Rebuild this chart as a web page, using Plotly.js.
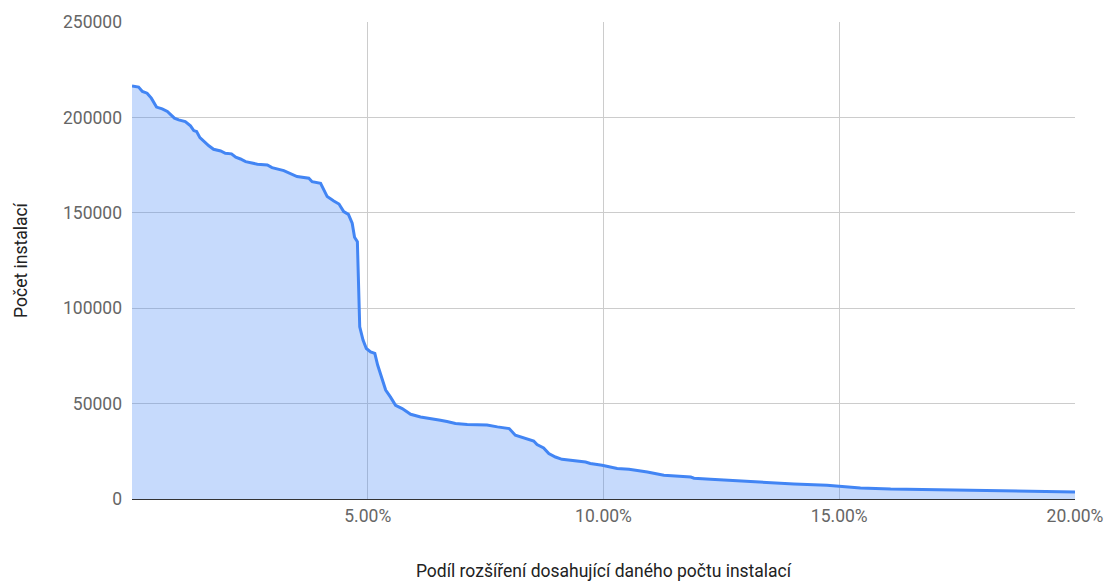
<!DOCTYPE html>
<html>
<head>
<meta charset="utf-8">
<script src="https://cdn.plot.ly/plotly-3.0.1.min.js"></script>
<style>html,body{margin:0;padding:0;background:#fff}#chart{width:1106px;height:581px}</style>
</head>
<body>
<div id="chart"></div>
<script>
// Share of extensions (fraction) reaching the given number of installs
const shareValues = [0, 0.0014, 0.0022, 0.0032, 0.0041, 0.0052, 0.0064, 0.0075, 0.0090, 0.0099,
  0.0113, 0.0124, 0.0131, 0.0137, 0.0144, 0.0156, 0.0163, 0.0173, 0.0188, 0.0198,
  0.0211, 0.0220, 0.0230, 0.0241, 0.0266, 0.0287, 0.0297, 0.0322, 0.0336, 0.0350,
  0.0375, 0.0382, 0.0400, 0.0414, 0.0428, 0.0439, 0.0449, 0.0459, 0.0467, 0.0472,
  0.0478, 0.0483, 0.0490, 0.0497, 0.0506, 0.0515, 0.0521, 0.0531, 0.0538, 0.0548,
  0.0559, 0.0573, 0.0591, 0.0612, 0.0626, 0.0637, 0.0654, 0.0668, 0.0686, 0.0711,
  0.0753, 0.0775, 0.0800, 0.0813, 0.0828, 0.0845, 0.0852, 0.0859, 0.0873, 0.0884,
  0.0898, 0.0912, 0.0937, 0.0962, 0.0972, 0.0997, 0.1029, 0.1054, 0.1093, 0.1128,
  0.1185, 0.1192, 0.1227, 0.1262, 0.1333, 0.1404, 0.1474, 0.1499, 0.1545, 0.1609,
  0.1764, 0.1906, 0.2000];
// Number of installs
const installValues = [216500, 215900, 213600, 212700, 210100, 205400, 204500, 203100, 199600, 198700,
  197800, 195600, 193100, 192600, 189400, 186500, 185100, 183300, 182400, 181200,
  180900, 179100, 178200, 176800, 175500, 175100, 173700, 172100, 170700, 169000,
  168100, 166300, 165500, 158500, 156200, 154600, 150600, 149200, 144500, 137200,
  134800, 90200, 83300, 78900, 77100, 76300, 70200, 62300, 57100, 53500,
  49100, 47400, 44400, 43000, 42500, 41800, 41300, 40600, 39600, 39000,
  38800, 37800, 36900, 33400, 32200, 31200, 30400, 28500, 26800, 23800,
  22000, 20800, 20300, 19400, 18600, 17700, 16000, 15600, 14200, 12400,
  11500, 10900, 10300, 9800, 8800, 7900, 7200, 6700, 5800, 5200,
  4600, 4000, 3700];
const xTickVals = [0.05, 0.10, 0.15, 0.20];
const yTickVals = [0, 50000, 100000, 150000, 200000, 250000];
const xTitle = 'Podíl rozšíření dosahující daného počtu instalací';
const yTitle = 'Počet instalací';

const trace = {
  x: shareValues,
  y: installValues,
  type: 'scatter',
  mode: 'lines',
  fill: 'tozeroy',
  fillcolor: 'rgba(66,133,244,0.3)',
  line: {color: '#4285f4', width: 3},
  hoverinfo: 'x+y'
};

const layout = {
  width: 1106, height: 581,
  margin: {l: 132, r: 31, t: 22, b: 82},
  paper_bgcolor: '#fff', plot_bgcolor: '#fff',
  font: {family: 'Roboto, sans-serif', size: 17.5, color: '#444'},
  showlegend: false,
  xaxis: {
    range: [0, 0.2],
    tickvals: xTickVals,
    tickformat: '.2%',
    showgrid: true, gridcolor: '#cccccc', gridwidth: 1,
    zeroline: false, showline: false, ticks: '',
    ticklabelstandoff: 4,
    tickfont: {color: '#666', size: 17.5},
    title: {text: xTitle, font: {color: '#222', size: 17.5}, standoff: 40}
  },
  yaxis: {
    range: [0, 250000],
    tickvals: yTickVals,
    tickformat: 'd',
    showgrid: true, gridcolor: '#cccccc', gridwidth: 1,
    zeroline: true, zerolinecolor: '#333', zerolinewidth: 1,
    showline: false, ticks: '', ticklabelstandoff: 9,
    tickfont: {color: '#666', size: 17.5},
    title: {text: yTitle, font: {color: '#222', size: 17.5}, standoff: 30}
  }
};

Plotly.newPlot('chart', [trace], layout, {displayModeBar: false, staticPlot: true});
</script>
</body>
</html>
